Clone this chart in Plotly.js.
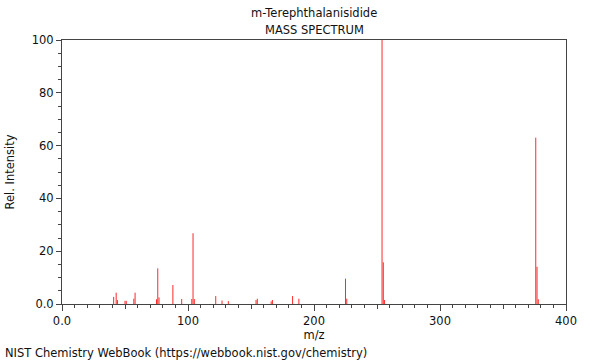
<!DOCTYPE html>
<html>
<head>
<meta charset="utf-8">
<script src="https://cdn.plot.ly/plotly-3.0.1.min.js"></script>
<style>html,body{margin:0;padding:0;background:#fff;}#chart{width:600px;height:360px;}</style>
</head>
<body>
<div id="chart"></div>
<script>
const compoundName = "m-Terephthalanisidide";
const chartSubtitle = "MASS SPECTRUM";
const sourceNote = "NIST Chemistry WebBook (https://webbook.nist.gov/chemistry)";
const mz = [41, 43, 44, 50, 51, 57, 58, 75, 76, 77, 88, 95, 103, 104, 105, 122, 127, 132, 154, 155, 166, 167, 183, 188, 225, 226, 254, 255, 256, 376, 377, 378];
const intensity = [2.7, 4.3, 1.5, 1.2, 1.2, 2.0, 4.3, 1.8, 13.5, 2.5, 7.2, 1.9, 1.9, 26.8, 1.9, 3.0, 1.3, 1.1, 1.5, 2.0, 1.0, 1.5, 3.0, 2.0, 9.6, 2.0, 100, 15.8, 1.5, 63.0, 14.1, 1.8];
const xTickVals = [0, 100, 200, 300, 400];
const xTickText = ["0.0", "100", "200", "300", "400"];
const yTickVals = [0, 20, 40, 60, 80, 100];
const yTickText = ["0.0", "20", "40", "60", "80", "100"];

const lx = [], ly = [];
mz.forEach((m, i) => { lx.push(m, m, null); ly.push(0, intensity[i], null); });

const font = {family: "DejaVu Sans, sans-serif", size: 11.5, color: "#111"};
const axisColor = "#444";

const data = [
  {x: lx, y: ly, type: "scatter", mode: "lines", line: {color: "#ff2a2a", width: 1}, hoverinfo: "skip", showlegend: false},
  {x: [], y: [], type: "scatter", xaxis: "x2", showlegend: false}
];

const layout = {
  width: 600, height: 360,
  margin: {l: 62, r: 34, t: 40, b: 56},
  paper_bgcolor: "#fff", plot_bgcolor: "#fff",
  font: font,
  xaxis: {
    range: [0, 400], showgrid: false, zeroline: false,
    showline: true, linecolor: axisColor, linewidth: 1, mirror: true,
    ticks: "outside", ticklen: 6, tickcolor: axisColor, tickwidth: 1,
    tickmode: "array", tickvals: xTickVals, ticktext: xTickText,
    minor: {dtick: 10, ticklen: 3, tickcolor: axisColor, ticks: "outside", showgrid: false},
    title: {text: "m/z", font: font, standoff: 4},
    tickfont: font, fixedrange: true
  },
  xaxis2: {
    overlaying: "x", range: [0, 400], side: "bottom", showgrid: false, zeroline: false,
    showline: false, ticks: "outside", ticklen: 4, tickcolor: axisColor,
    tickmode: "array", tickvals: [50, 150, 250, 350], showticklabels: false
  },
  yaxis: {
    range: [0, 100], showgrid: false, zeroline: false,
    showline: true, linecolor: axisColor, linewidth: 1, mirror: true,
    ticks: "outside", ticklen: 5, tickcolor: axisColor, tickwidth: 1,
    tickmode: "array", tickvals: yTickVals, ticktext: yTickText,
    minor: {dtick: 5, ticklen: 3, tickcolor: axisColor, ticks: "outside", showgrid: false},
    title: {text: "Rel. Intensity", font: font, standoff: 14},
    tickfont: font, fixedrange: true
  },
  annotations: [
    {text: compoundName, xref: "paper", yref: "paper", x: 0.5, y: 1.102, xanchor: "center", yanchor: "middle", showarrow: false, font: font},
    {text: chartSubtitle, xref: "paper", yref: "paper", x: 0.5, y: 1.038, xanchor: "center", yanchor: "middle", showarrow: false, font: font},
    {text: sourceNote, xref: "paper", yref: "paper", x: -0.117, y: -0.1856, xanchor: "left", yanchor: "middle", showarrow: false, font: font}
  ]
};

Plotly.newPlot("chart", data, layout, {displayModeBar: false, staticPlot: true});
</script>
</body>
</html>
